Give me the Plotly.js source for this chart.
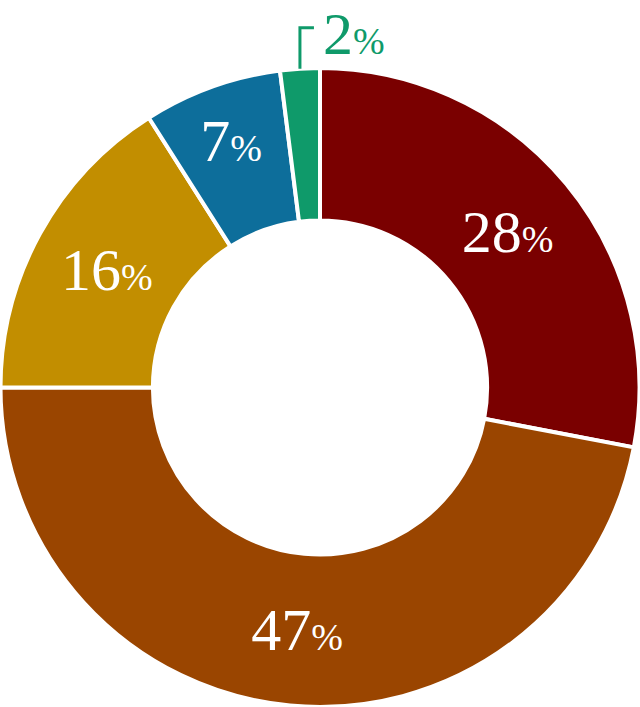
<!DOCTYPE html>
<html>
<head>
<meta charset="utf-8">
<script src="https://cdn.plot.ly/plotly-3.0.1.min.js"></script>
<style>html,body{margin:0;padding:0;background:#fff;}#chart{width:640px;height:707px;}</style>
</head>
<body>
<div id="chart"></div>
<script>
const categories = ['A', 'B', 'C', 'D', 'E'];
const values = [28, 47, 16, 7, 2];
const colors = ['#7a0000', '#9a4500', '#c28e00', '#0d6e9b', '#0f9a6a'];
const outsideIndex = 4;

const W = 640, H = 707;
const domTop = 639 / 707;
const total = values.reduce((a, b) => a + b, 0);
const FONT = '"Liberation Serif", serif';

const pctSpan = '<span style="font-size:38px">%</span>';
const templates = values.map((v, i) => i === outsideIndex ? '' : '%{value}' + pctSpan);

// geometry of the pie as Plotly will draw it (margins 0)
const R = Math.min(W, H * domTop) / 2;
const cx = W / 2;
const cy = H - (H * domTop) / 2;
let before = 0;
for (let i = 0; i < outsideIndex; i++) before += values[i];
const midDeg = (before + values[outsideIndex] / 2) / total * 360;
const th = midDeg * Math.PI / 180;
const x0 = cx + R * Math.sin(th);
const y0 = cy - R * Math.cos(th);
const yTop = y0 - 41;
const x1 = x0 + 14;
const px = x => x / W;
const py = y => 1 - y / H;

const data = [{
  type: 'pie',
  labels: categories,
  values: values,
  sort: false,
  direction: 'clockwise',
  rotation: 0,
  hole: 0.523,
  marker: { colors: colors, line: { color: '#ffffff', width: 4 } },
  texttemplate: templates,
  textposition: 'inside',
  insidetextorientation: 'horizontal',
  textfont: { family: FONT, size: 60, color: '#ffffff' },
  domain: { x: [0, 1], y: [0, domTop] },
  hoverinfo: 'none'
}];

const layout = {
  width: W, height: H,
  margin: { l: 0, r: 0, t: 0, b: 0 },
  showlegend: false,
  paper_bgcolor: '#ffffff',
  shapes: [{
    type: 'path', xref: 'paper', yref: 'paper',
    path: `M ${px(x0)} ${py(y0)} L ${px(x0)} ${py(yTop)} L ${px(x1)} ${py(yTop)}`,
    line: { color: colors[outsideIndex], width: 3 }
  }],
  annotations: [{
    xref: 'paper', yref: 'paper',
    x: px(x1 + 8), y: 1,
    xanchor: 'left', yanchor: 'top',
    text: values[outsideIndex] + pctSpan,
    showarrow: false, borderpad: 0,
    font: { family: FONT, size: 60, color: colors[outsideIndex] }
  }]
};

Plotly.newPlot('chart', data, layout, { displayModeBar: false, staticPlot: true });
</script>
</body>
</html>
